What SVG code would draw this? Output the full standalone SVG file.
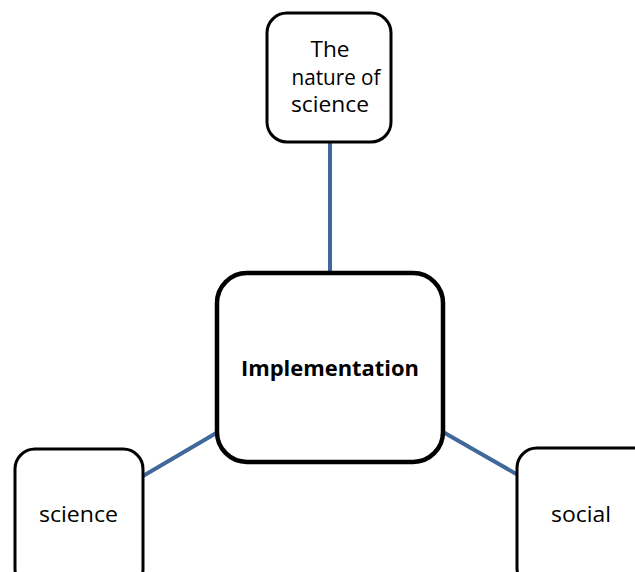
<svg xmlns="http://www.w3.org/2000/svg" width="635" height="572" viewBox="0 0 635 572">
<style>
.node{fill:#fff;stroke:#000;stroke-width:3}
.main{fill:#fff;stroke:#000;stroke-width:4.5}
.lbl{font-family:"Open Sans","Liberation Sans",sans-serif;font-size:22px;fill:#000;text-anchor:middle}
.bold{font-weight:bold;font-size:21px}
.conn{stroke:#41689a;stroke-width:4;fill:none}
</style>
<rect width="635" height="572" fill="#fff"/>
<g id="connectors">
<line class="conn" x1="330" y1="142" x2="330" y2="273"/>
<line class="conn" x1="143" y1="476" x2="218" y2="432"/>
<line class="conn" x1="443" y1="432" x2="518" y2="475"/>
</g>
<g id="node-nature">
<rect class="node" x="267" y="13" width="124" height="129" rx="20"/>
<text class="lbl" x="330" y="57" textLength="39" lengthAdjust="spacingAndGlyphs">The</text>
<text class="lbl" x="336" y="85" textLength="89" lengthAdjust="spacingAndGlyphs">nature of</text>
<text class="lbl" x="330" y="112" textLength="78" lengthAdjust="spacingAndGlyphs">science</text>
</g>
<g id="node-implementation">
<rect class="main" x="217" y="273" width="226" height="189" rx="30"/>
<text class="lbl bold" x="330" y="376" textLength="178" lengthAdjust="spacingAndGlyphs">Implementation</text>
</g>
<g id="node-science">
<rect class="node" x="15" y="449" width="128" height="140" rx="20"/>
<text class="lbl" x="78.5" y="522" textLength="79" lengthAdjust="spacingAndGlyphs">science</text>
</g>
<g id="node-social">
<rect class="node" x="517" y="448" width="140" height="140" rx="20"/>
<text class="lbl" x="581" y="522" textLength="60" lengthAdjust="spacingAndGlyphs">social</text>
</g>
</svg>
